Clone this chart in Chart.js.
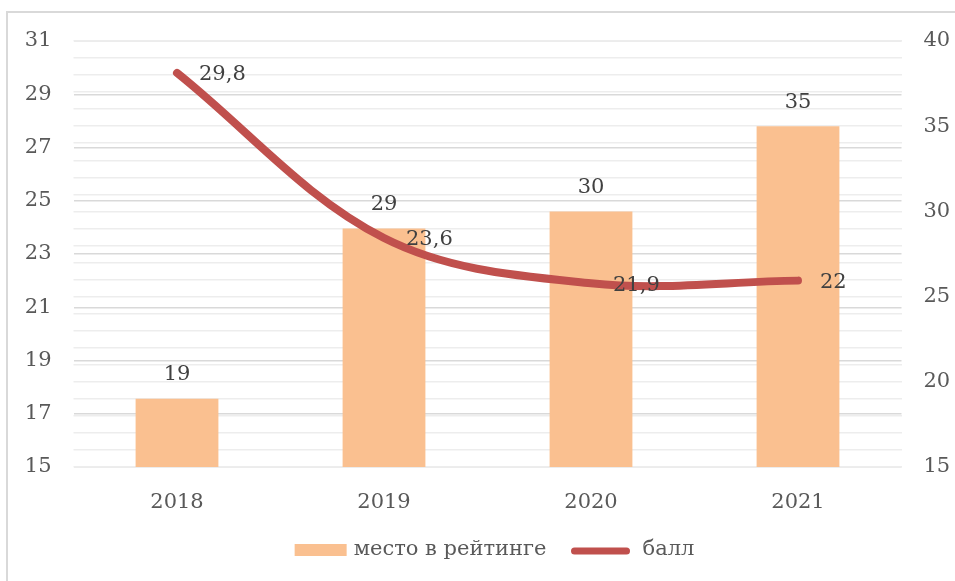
<!DOCTYPE html>
<html>
<head>
<meta charset="utf-8">
<script src="https://cdn.jsdelivr.net/npm/chart.js@4/dist/chart.umd.min.js"></script>
<style>
  html, body { margin:0; padding:0; background:#fff; }
  #wrap { position:relative; width:955px; height:581px; }
  #frame { position:absolute; left:6px; top:11px; right:-2px; bottom:-2px;
           border-left:2px solid #d9d9d9; border-top:2px solid #d9d9d9; }
  canvas { position:absolute; left:0; top:0; }
</style>
</head>
<body>
<div id="wrap">
  <div id="frame"></div>
  <canvas id="c" width="955" height="581"></canvas>
</div>
<script>
/* данные */
const years  = ['2018', '2019', '2020', '2021'];
const place  = [19, 29, 30, 35];          // место в рейтинге (правая ось)
const score  = [29.8, 23.6, 21.9, 22];    // балл (левая ось)
const seriesNames = ['место в рейтинге', 'балл'];

const FONT = '"DejaVu Serif", serif';
const FS = 21;
const fmt = v => String(v).replace('.', ',');

/* подписи значений */
const valueLabels = {
  id: 'valueLabels',
  afterDatasetsDraw(chart) {
    const ctx = chart.ctx;
    ctx.save();
    ctx.font = FS + 'px ' + FONT;
    ctx.fillStyle = '#404040';
    ctx.textBaseline = 'middle';
    const bars = chart.getDatasetMeta(0).data;
    ctx.textAlign = 'center';
    bars.forEach((b, i) => ctx.fillText(fmt(place[i]), b.x, b.y - 24));
    const pts = chart.getDatasetMeta(1).data;
    ctx.textAlign = 'left';
    pts.forEach((p, i) => ctx.fillText(fmt(score[i]), p.x + 22, p.y + 2));
    ctx.restore();
  }
};

/* легенда снизу */
const bottomLegend = {
  id: 'bottomLegend',
  afterDraw(chart) {
    const ctx = chart.ctx;
    ctx.save();
    ctx.font = FS + 'px ' + FONT;
    ctx.textBaseline = 'middle';
    const y = 550;
    const w0 = ctx.measureText(seriesNames[0]).width;
    const w1 = ctx.measureText(seriesNames[1]).width;
    const total = 52 + 7 + w0 + 24 + 60 + 12 + w1;
    let x = (chart.width - total) / 2 + 17;
    ctx.fillStyle = '#FAC090';
    ctx.fillRect(x, y - 6, 52, 12);
    x += 59;
    ctx.fillStyle = '#595959';
    ctx.fillText(seriesNames[0], x, y);
    x += w0 + 24;
    ctx.strokeStyle = '#C0504D';
    ctx.lineWidth = 7;
    ctx.lineCap = 'round';
    ctx.beginPath();
    ctx.moveTo(x + 4, y + 1);
    ctx.lineTo(x + 56, y + 1);
    ctx.stroke();
    x += 72;
    ctx.fillText(seriesNames[1], x, y);
    ctx.restore();
  }
};

new Chart(document.getElementById('c'), {
  data: {
    labels: years,
    datasets: [
      { type: 'bar', label: seriesNames[0], data: place, yAxisID: 'y1',
        backgroundColor: '#FAC090', barPercentage: 0.4, categoryPercentage: 1, order: 2 },
      { type: 'line', label: seriesNames[1], data: score, yAxisID: 'y',
        borderColor: '#C0504D', borderWidth: 8, borderCapStyle: 'round',
        pointRadius: 0, tension: 0.35, fill: false, order: 1 }
    ]
  },
  options: {
    responsive: false,
    animation: false,
    layout: { padding: { top: 41, left: 0, right: 0, bottom: 0 } },
    plugins: { legend: { display: false }, tooltip: { enabled: false } },
    scales: {
      x: {
        grid: { display: false }, border: { display: false },
        ticks: { color: '#595959', font: { family: FONT, size: FS }, padding: 15 },
        afterFit: s => { s.height = 114; }
      },
      y: {
        position: 'left', min: 15, max: 31,
        ticks: { stepSize: 2, color: '#595959', font: { family: FONT, size: FS }, padding: 22 },
        grid: { color: '#d9d9d9', lineWidth: 1.5, drawTicks: false },
        border: { display: false },
        afterFit: s => { s.width = 73.5; }
      },
      y1: {
        position: 'right', min: 15, max: 40,
        ticks: { stepSize: 1, autoSkip: false, color: '#595959', font: { family: FONT, size: FS }, padding: 22,
                 callback: v => v % 5 === 0 ? String(v) : '' },
        grid: { color: '#ededed', lineWidth: 1.5, drawTicks: false },
        border: { display: false },
        afterFit: s => { s.width = 53.5; }
      }
    }
  },
  plugins: [valueLabels, bottomLegend]
});
</script>
</body>
</html>
